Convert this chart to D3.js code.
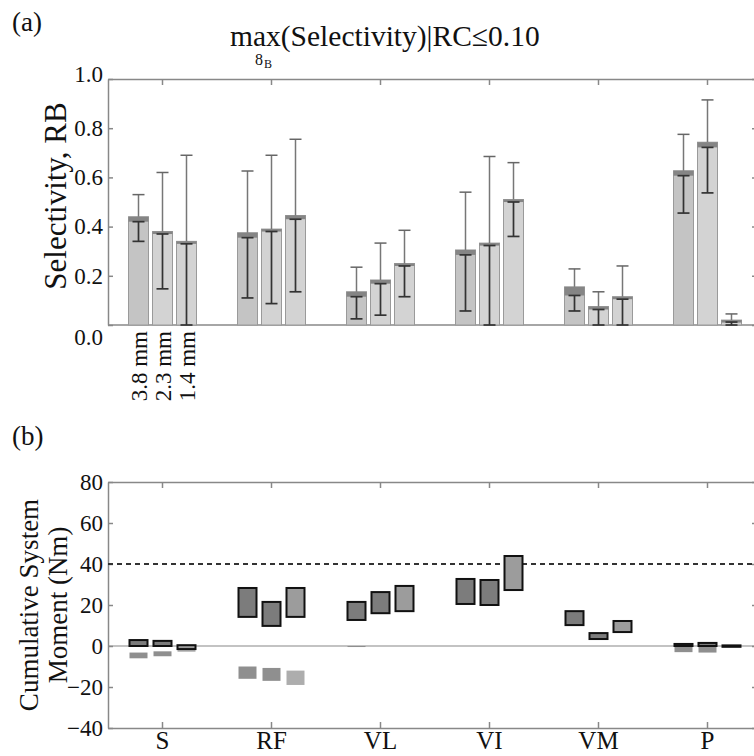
<!DOCTYPE html>
<html>
<head>
<meta charset="utf-8">
<script src="https://cdn.jsdelivr.net/npm/d3@7"></script>
<style>
  body { margin: 0; background: #fff; }
  text { font-family: "Liberation Serif", "DejaVu Serif", serif; fill: #111; }
  .ax path, .ax line { stroke: #888; stroke-width: 1.5; }
</style>
</head>
<body>
<svg id="chart" width="754" height="756"></svg>
<script>
// muscles and electrode sizes
const muscles = ["S", "RF", "VL", "VI", "VM", "P"]
const sizes = ["3.8 mm", "2.3 mm", "1.4 mm"]

// panel (a): selectivity, one row per muscle, one value per size
const selMean = [[0.44, 0.38, 0.34], [0.375, 0.39, 0.445], [0.135, 0.183, 0.25],
  [0.305, 0.333, 0.51], [0.155, 0.075, 0.115], [0.627, 0.743, 0.02]]
const selBand = [[0.42, 0.37, 0.33], [0.355, 0.38, 0.43], [0.115, 0.168, 0.24],
  [0.285, 0.323, 0.50], [0.12, 0.063, 0.105], [0.607, 0.722, 0.012]]
const selLow = [[0.34, 0.147, 0.0], [0.11, 0.087, 0.135], [0.025, 0.04, 0.115],
  [0.057, 0.0, 0.36], [0.057, 0.0, 0.0], [0.455, 0.537, 0.0]]
const selHigh = [[0.53, 0.62, 0.69], [0.626, 0.69, 0.755], [0.235, 0.333, 0.385],
  [0.54, 0.685, 0.66], [0.228, 0.135, 0.24], [0.775, 0.915, 0.045]]
const selTicks = [0, 0.2, 0.4, 0.6, 0.8, 1.0]

// panel (b): cumulative system moment ranges (Nm)
const momLo = [[0, 0, -1.5], [14.2, 9.8, 14.2], [12.7, 16, 17],
  [20.5, 20, 27.3], [10.2, 3.4, 6.8], [0, 0, -0.4]]
const momHi = [[2.9, 2.5, 0.4], [28.3, 21.5, 28.3], [21.5, 26.3, 29.3],
  [32.7, 32.2, 43.9], [17, 6.3, 12.2], [1, 1.5, 0.3]]
const negLo = [[-6, -5, -2.8], [-16, -17, -19], [-0.5, null, null],
  [null, null, null], [null, null, null], [-3, -3.2, null]]
const negHi = [[-3.2, -2.6, -1], [-10, -10.7, -12], [0, null, null],
  [null, null, null], [null, null, null], [-0.3, -0.3, null]]
const momTicks = [-40, -20, 0, 20, 40, 60, 80]
const momLimit = 40

const serif = "Liberation Serif, DejaVu Serif, serif"
const svg = d3.select("#chart")

const x = d3.scaleBand().domain(muscles).range([108, 762])
const sub = d3.scaleBand().domain(sizes).range([-34, 34]).paddingInner(1 / 6)
const cx = m => x(m) + x.bandwidth() / 2
const bw = sub.bandwidth()

// ---------- panel (a)
const ya = d3.scaleLinear().domain([0, 1]).range([325, 79])

svg.append("text").attr("x", 12).attr("y", 31).attr("font-size", 27).text("(a)")

svg.append("text").attr("x", 230).attr("y", 46).attr("font-size", 29.5)
  .text("max(Selectivity)|RC≤0.10")
svg.append("text").attr("x", 255).attr("y", 65).attr("font-size", 16).text("8")
svg.append("text").attr("x", 264).attr("y", 68).attr("font-size", 12).text("B")

svg.append("g").attr("class", "ax").attr("font-family", serif)
  .attr("transform", "translate(108,0)")
  .call(d3.axisLeft(ya).tickValues(selTicks).tickFormat(d3.format(".1f"))
    .tickSizeInner(-5).tickSizeOuter(0).tickPadding(5))
  .call(g => g.selectAll("text").attr("font-size", 23)
    .attr("dy", d => d === 0 ? "0.85em" : d === 1 ? "0.1em" : "0.32em"))

svg.append("g").attr("class", "ax")
  .attr("transform", "translate(0,79)")
  .call(d3.axisTop(x).tickSizeInner(-6).tickSizeOuter(0).tickFormat(""))

svg.append("g").attr("class", "ax")
  .attr("transform", "translate(757,0)")
  .call(d3.axisRight(ya).tickValues(selTicks).tickSizeInner(-5).tickSizeOuter(0).tickFormat(""))
  .call(g => g.select(".domain").remove())

svg.append("line").attr("x1", 108).attr("x2", 754).attr("y1", ya(0)).attr("y2", ya(0))
  .attr("stroke", "#888").attr("stroke-width", 1.5)

svg.append("text")
  .attr("transform", "translate(66,196) rotate(-90)")
  .attr("text-anchor", "middle").attr("font-size", 31).text("Selectivity, RB")

const cellsA = []
muscles.forEach((m, i) => sizes.forEach((s, j) => cellsA.push({
  m, s, j, mean: selMean[i][j], band: selBand[i][j], lo: selLow[i][j], hi: selHigh[i][j]
})))

const ga = svg.append("g")
  .selectAll("g").data(cellsA).enter().append("g")
  .attr("transform", d => `translate(${cx(d.m) + sub(d.s)},0)`)

ga.append("rect")
  .attr("y", d => ya(d.mean)).attr("width", bw)
  .attr("height", d => ya(0) - ya(d.mean))
  .attr("fill", d => d.j === 0 ? "#c4c4c4" : "#d3d3d3")
  .attr("stroke", "#9a9a9a").attr("stroke-width", 1)
ga.append("rect")
  .attr("y", d => ya(d.mean)).attr("width", bw)
  .attr("height", d => Math.max(2.5, ya(d.band) - ya(d.mean)))
  .attr("fill", "#858585")

// upper whisker (outside the bar) in grey
ga.append("line")
  .attr("x1", bw / 2).attr("x2", bw / 2)
  .attr("y1", d => ya(d.hi)).attr("y2", d => ya(d.mean))
  .attr("stroke", "#777").attr("stroke-width", 1.5)
ga.append("line")
  .attr("x1", bw / 2 - 6).attr("x2", bw / 2 + 6)
  .attr("y1", d => ya(d.hi)).attr("y2", d => ya(d.hi))
  .attr("stroke", "#666").attr("stroke-width", 1.5)
// lower whisker (inside the bar) in dark
ga.append("line")
  .attr("x1", bw / 2).attr("x2", bw / 2)
  .attr("y1", d => ya(d.band)).attr("y2", d => ya(d.lo))
  .attr("stroke", "#333").attr("stroke-width", 1.7)
ga.append("line")
  .attr("x1", bw / 2 - 6).attr("x2", bw / 2 + 6)
  .attr("y1", d => ya(d.lo)).attr("y2", d => ya(d.lo))
  .attr("stroke", "#333").attr("stroke-width", 1.7)
ga.append("line")
  .attr("x1", bw / 2 - 6).attr("x2", bw / 2 + 6)
  .attr("y1", d => ya(d.band)).attr("y2", d => ya(d.band))
  .attr("stroke", "#333").attr("stroke-width", 1.7)

// electrode size labels under the first group
svg.append("g").selectAll("text").data(sizes).enter().append("text")
  .attr("transform", s => `translate(${cx(muscles[0]) + sub(s) + bw / 2 + 8},331) rotate(-90)`)
  .attr("text-anchor", "end").attr("font-size", 23).text(s => s)

// ---------- panel (b)
const yb = d3.scaleLinear().domain([-40, 80]).range([728, 482])

svg.append("text").attr("x", 12).attr("y", 445).attr("font-size", 27).text("(b)")

svg.append("g").attr("class", "ax").attr("font-family", serif)
  .attr("transform", "translate(108,0)")
  .call(d3.axisLeft(yb).tickValues(momTicks)
    .tickSizeInner(-5).tickSizeOuter(0).tickPadding(5))
  .call(g => g.selectAll("text").attr("font-size", 23))

svg.append("g").attr("class", "ax")
  .attr("transform", "translate(0,482)")
  .call(d3.axisTop(x).tickSizeInner(-6).tickSizeOuter(0).tickFormat(""))

svg.append("g").attr("class", "ax").attr("font-family", serif)
  .attr("transform", "translate(0,728)")
  .call(d3.axisBottom(x).tickSizeInner(-6).tickSizeOuter(0).tickPadding(3))
  .call(g => g.selectAll("text").attr("font-size", 25))

svg.append("g").attr("class", "ax")
  .attr("transform", "translate(757,0)")
  .call(d3.axisRight(yb).tickValues(momTicks).tickSizeInner(-5).tickSizeOuter(0).tickFormat(""))
  .call(g => g.select(".domain").remove())

svg.append("line").attr("x1", 108).attr("x2", 754).attr("y1", yb(0)).attr("y2", yb(0))
  .attr("stroke", "#888").attr("stroke-width", 1.2)
svg.append("line").attr("x1", 108).attr("x2", 754)
  .attr("y1", yb(momLimit)).attr("y2", yb(momLimit))
  .attr("stroke", "#333").attr("stroke-width", 1.8).attr("stroke-dasharray", "5,4")

const ylab = svg.append("text")
  .attr("transform", "translate(0,605) rotate(-90)")
  .attr("text-anchor", "middle").attr("font-size", 27)
ylab.append("tspan").attr("x", 0).attr("y", 38).text("Cumulative System")
ylab.append("tspan").attr("x", 0).attr("y", 67).text("Moment (Nm)")

const cellsB = []
muscles.forEach((m, i) => sizes.forEach((s, j) => cellsB.push({
  m, s, j, lo: momLo[i][j], hi: momHi[i][j], nlo: negLo[i][j], nhi: negHi[i][j]
})))

const gb = svg.append("g")
  .selectAll("g").data(cellsB).enter().append("g")
  .attr("transform", d => `translate(${cx(d.m) + sub(d.s)},0)`)

gb.filter(d => d.nlo !== null).append("rect")
  .attr("x", 1).attr("width", bw - 2)
  .attr("y", d => yb(d.nhi)).attr("height", d => yb(d.nlo) - yb(d.nhi))
  .attr("fill", d => d.j === 2 ? "#adadad" : "#8f8f8f")

gb.append("rect")
  .attr("x", 1).attr("width", bw - 2)
  .attr("y", d => yb(d.hi)).attr("height", d => Math.max(1, yb(d.lo) - yb(d.hi)))
  .attr("fill", d => d.j === 2 ? "#9c9c9c" : "#7c7c7c")
  .attr("stroke", "#111").attr("stroke-width", 2)
</script>
</body>
</html>
